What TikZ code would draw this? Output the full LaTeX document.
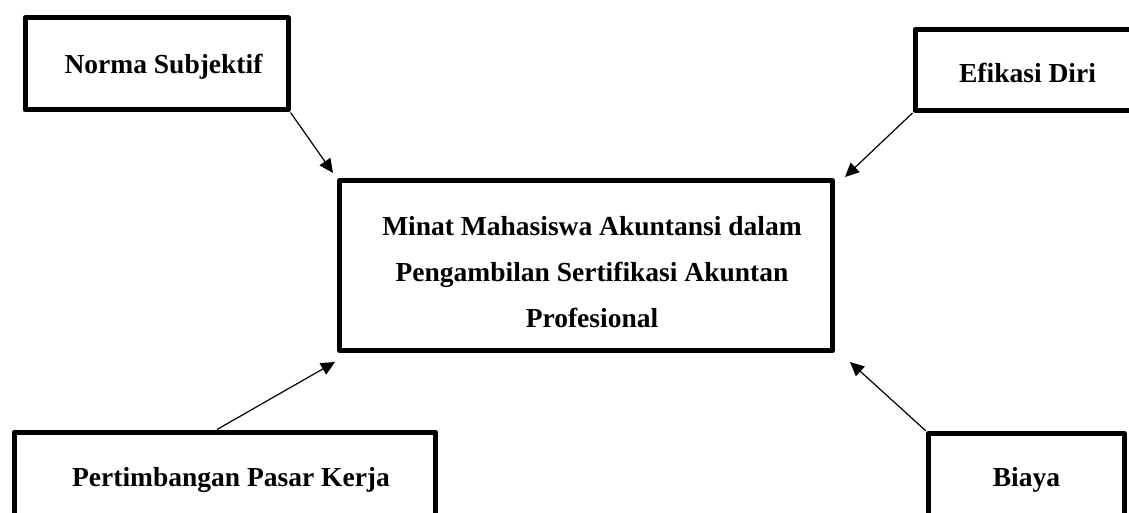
\documentclass[tikz,border=0pt]{standalone}
\usepackage{fontspec}
\setmainfont{Liberation Serif}
\usepackage{tikz}
\usetikzlibrary{arrows.meta}

\begin{document}
\begin{tikzpicture}[x=1pt, y=-1pt,
    box/.style={rectangle, draw, line width=5pt, line join=round, inner sep=0pt},
    lbl/.style={align=center, inner sep=0pt, font=\fontsize{27.5}{46}\selectfont\bfseries},
    arr/.style={-{Triangle[length=14pt,width=13pt]}, line width=1.2pt}]
    \path[use as bounding box, clip] (0,0) rectangle (1129,513);
    \node[box, minimum width=493pt, minimum height=170pt,
        label={[lbl, xshift=6pt, yshift=-7pt]center:Minat Mahasiswa Akuntansi dalam\\ Pengambilan Sertifikasi Akuntan\\ Profesional}] (cm) at (586,265.5) {};
    \node[box, minimum width=263pt, minimum height=92pt,
        label={[lbl, xshift=7pt, yshift=-3pt]center:Norma Subjektif}] (ns) at (156.5,64) {};
    \node[box, minimum width=225pt, minimum height=81pt,
        label={[lbl, yshift=-3pt]center:Efikasi Diri}] (ed) at (1027.5,70) {};
    \node[box, minimum width=421pt, minimum height=92pt,
        label={[lbl, xshift=6pt, yshift=-2pt]center:Pertimbangan Pasar Kerja}] (pk) at (225,478) {};
    \node[box, minimum width=196pt, minimum height=92pt,
        label={[lbl]center:Biaya}] (bi) at (1026.5,479.5) {};
    \draw[arr] (ns.south east) -- ([shift={(-4,-5)}]cm.north west);
    \draw[arr] (ed.south west) -- ([shift={(10,-1)}]cm.north east);
    \draw[arr] ([xshift=-8pt]pk.north) -- ([shift={(-2,9)}]cm.south west);
    \draw[arr] (bi.north west) -- ([shift={(15,9)}]cm.south east);
\end{tikzpicture}
\end{document}
